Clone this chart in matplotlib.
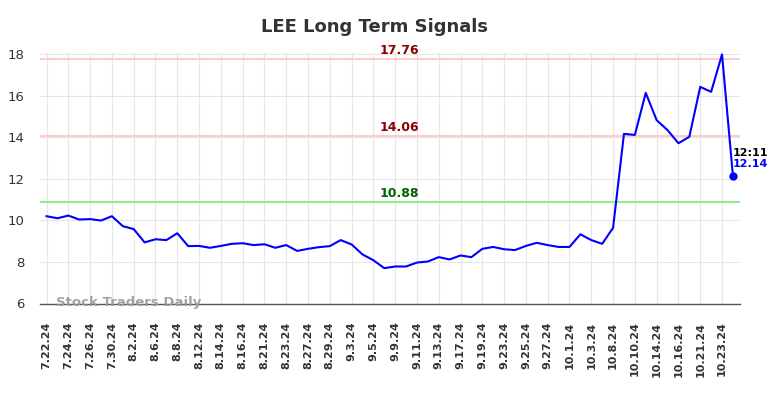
import matplotlib
matplotlib.use("Agg")
import matplotlib.pyplot as plt

tick_labels = ["7.22.24", "7.24.24", "7.26.24", "7.30.24", "8.2.24", "8.6.24", "8.8.24",
               "8.12.24", "8.14.24", "8.16.24", "8.21.24", "8.23.24", "8.27.24", "8.29.24",
               "9.3.24", "9.5.24", "9.9.24", "9.11.24", "9.13.24", "9.17.24", "9.19.24",
               "9.23.24", "9.25.24", "9.27.24", "10.1.24", "10.3.24", "10.8.24", "10.10.24",
               "10.14.24", "10.16.24", "10.21.24", "10.23.24"]

prices = [10.20, 10.10, 10.23, 10.04, 10.06, 9.99, 10.20, 9.72, 9.58, 8.94,
          9.09, 9.05, 9.38, 8.76, 8.77, 8.68, 8.77, 8.87, 8.90, 8.81,
          8.85, 8.68, 8.81, 8.53, 8.63, 8.71, 8.76, 9.05, 8.84, 8.36,
          8.08, 7.70, 7.78, 7.78, 7.97, 8.02, 8.23, 8.12, 8.31, 8.23,
          8.63, 8.72, 8.61, 8.57, 8.77, 8.92, 8.81, 8.72, 8.72, 9.33,
          9.05, 8.87, 9.64, 14.16, 14.11, 16.13, 14.82, 14.34, 13.71, 14.02,
          16.42, 16.18, 17.98, 12.14]

resistance_high = 17.76
resistance_mid = 14.06
support = 10.88
last_time = "12:11"
last_price = 12.14
title = "LEE Long Term Signals"
watermark = "Stock Traders Daily"

fig = plt.figure(figsize=(7.84, 3.98), dpi=100)
ax = fig.add_axes([40/784, 1 - 303.5/398, 700/784, 250.5/398])

x = list(range(len(prices)))
ax.plot(x, prices, color="#0000ff", lw=1.5, zorder=3)
ax.plot(x[-1], last_price, "o", color="#0000ff", ms=5, zorder=4)

ax.axhline(resistance_high, color="#ffcccc", lw=1.5, zorder=2)
ax.axhline(resistance_mid, color="#ffcccc", lw=1.5, zorder=2)
ax.axhline(support, color="#90ee90", lw=1.5, zorder=2)

xmid = (len(prices) - 1) / 2 + 0.9
ax.text(xmid, resistance_high + 0.08, f"{resistance_high:.2f}", color="#8b0000",
        fontsize=9, fontweight="bold", ha="center", va="bottom")
ax.text(xmid, resistance_mid + 0.08, f"{resistance_mid:.2f}", color="#8b0000",
        fontsize=9, fontweight="bold", ha="center", va="bottom")
ax.text(xmid, support + 0.08, f"{support:.2f}", color="#006400",
        fontsize=9, fontweight="bold", ha="center", va="bottom")

ax.text(x[-1] - 0.05, last_price + 0.85, last_time, color="black", fontsize=8,
        fontweight="bold", ha="left", va="bottom")
ax.text(x[-1] - 0.05, last_price + 0.8, f"{last_price:.2f}", color="#0000ff", fontsize=8,
        fontweight="bold", ha="left", va="top")

ax.text(0.85, 6.03, watermark, color="#999999", fontsize=9.5, fontweight="bold",
        ha="left", va="center", alpha=0.9, zorder=5)

ax.set_xlim(-0.6, len(prices) - 0.35)
ax.set_ylim(6, 18.05)
ax.set_yticks([6, 8, 10, 12, 14, 16, 18])
ax.set_xticks(x[::2])
ax.set_xticklabels(tick_labels, rotation=90, fontsize=8, fontweight="bold", color="#333333")
ax.tick_params(axis="y", labelsize=9.5, colors="#333333", length=0, pad=11)
ax.tick_params(axis="x", length=0, pad=13)

ax.grid(True, color="#e6e6e6", lw=0.8)
ax.set_axisbelow(True)
for s in ["top", "right", "left"]:
    ax.spines[s].set_visible(False)
ax.spines["bottom"].set_color("#555555")
ax.spines["bottom"].set_linewidth(1.0)

fig.text(374.5/784, 1 - 27/398, title, ha="center", va="center", fontsize=13,
         fontweight="bold", color="#333333")

fig.savefig("out.png", dpi=100)
